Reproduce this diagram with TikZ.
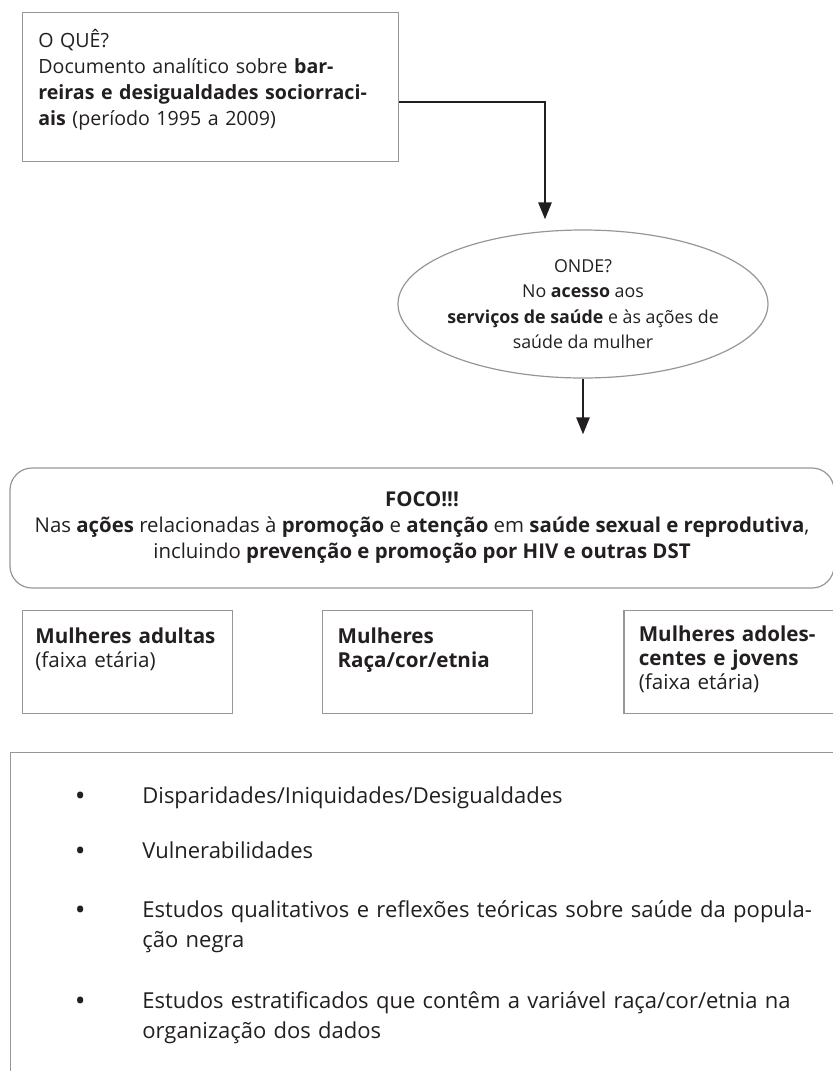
\documentclass[tikz,border=0pt]{standalone}
\usepackage{fontspec}
\setmainfont{Open Sans}
\usetikzlibrary{positioning,shapes.geometric,arrows.meta}

\definecolor{boxgray}{RGB}{150,150,150}
\definecolor{ink}{RGB}{35,31,32}

\begin{document}
\begin{tikzpicture}[x=0.5pt,y=-0.5pt,
    box/.style={draw=boxgray,line width=0.6pt,rectangle,inner sep=0pt},
    txt/.style={inner sep=0pt,align=left,text=ink,font=\fontsize{9.8}{13}\selectfont},
    arrow/.style={draw=ink,line width=1.3pt,-{Triangle[length=8.5pt,width=6.5pt]}},
    item/.style={txt,anchor=base west,text width=380pt,font=\fontsize{11}{15}\selectfont}]

	\useasboundingbox (0,0) rectangle (833,1071);

	% O QUE?
	\node[box,anchor=north west,minimum width=188pt,minimum height=74.5pt] (what) at (22,12) {};
	\node[txt,anchor=base west,text width=220pt] (whattext) at ([xshift=8pt,yshift=-17.5pt]what.north west)
		{O QUÊ?\\Documento analítico sobre \textbf{bar-}\\\textbf{reiras e desigualdades sociorraci-}\\\textbf{ais} (período 1995 a 2009)};

	% ONDE?
	\node[box,txt,ellipse,align=center,minimum width=185pt,minimum height=74pt,
		inner xsep=-20pt,inner ysep=-6pt,font=\fontsize{8.9}{12.75}\selectfont] (where) at (583,304)
		{ONDE?\\No \textbf{acesso} aos\\\textbf{serviços de saúde} e às ações de\\saúde da mulher};

	% FOCO
	\node[box,txt,align=center,rounded corners=11pt,minimum width=412pt,minimum height=60pt,
		font=\fontsize{10.2}{13}\selectfont] (focus) at (422,528)
		{\textbf{FOCO!!!}\\Nas \textbf{ações} relacionadas à \textbf{promoção} e \textbf{atenção} em \textbf{saúde sexual e reprodutiva},\\incluindo \textbf{prevenção e promoção por HIV e outras DST}};

	% grupos de mulheres
	\node[box,anchor=north west,minimum width=105pt,minimum height=51.5pt] (adult) at (22,610) {};
	\node[box,minimum width=105pt,minimum height=51.5pt,right=44.5pt of adult] (race) {};
	\node[box,minimum width=105pt,minimum height=51.5pt,right=45pt of race] (young) {};

	\node[txt,anchor=base west,text width=130pt,font=\fontsize{10.3}{12}\selectfont] (adulttext) at ([xshift=6.5pt,yshift=-16.5pt]adult.north west)
		{\textbf{Mulheres adultas}\\(faixa etária)};
	\node[txt,anchor=base west,text width=130pt,font=\fontsize{10.3}{12}\selectfont] (racetext) at ([xshift=7.5pt,yshift=-16.5pt]race.north west)
		{\textbf{Mulheres}\\\textbf{Raça/cor/etnia}};
	\node[txt,anchor=base west,text width=130pt,font=\fontsize{10.3}{12}\selectfont] (youngtext) at ([xshift=7.5pt,yshift=-15.5pt]young.north west)
		{\textbf{Mulheres adoles-}\\\textbf{centes e jovens}\\(faixa etária)};

	% lista
	\node[box,anchor=north west,minimum width=416pt,minimum height=170pt] (list) at (10,752) {};
	\node[item] (item1) at (142,803) {\llap{\textbf{\textbullet}\hspace{29pt}}Disparidades/Iniquidades/Desigualdades};
	\node[item] (item2) at (142,858) {\llap{\textbf{\textbullet}\hspace{29pt}}Vulnerabilidades};
	\node[item] (item3) at (142,917) {\llap{\textbf{\textbullet}\hspace{29pt}}Estudos qualitativos e reflexões teóricas sobre saúde da popula-\\ção negra};
	\node[item] (item4) at (142,1008) {\llap{\textbf{\textbullet}\hspace{29pt}}Estudos estratificados que contêm a variável raça/cor/etnia na\\organização dos dados};

	% setas
	\draw[arrow,shorten >=5pt] ([yshift=-7.5pt]what.east) -| ([xshift=-19pt]where.north);
	\draw[arrow,shorten >=16.5pt] (where.south) -- (where.south |- focus.north);

\end{tikzpicture}
\end{document}
